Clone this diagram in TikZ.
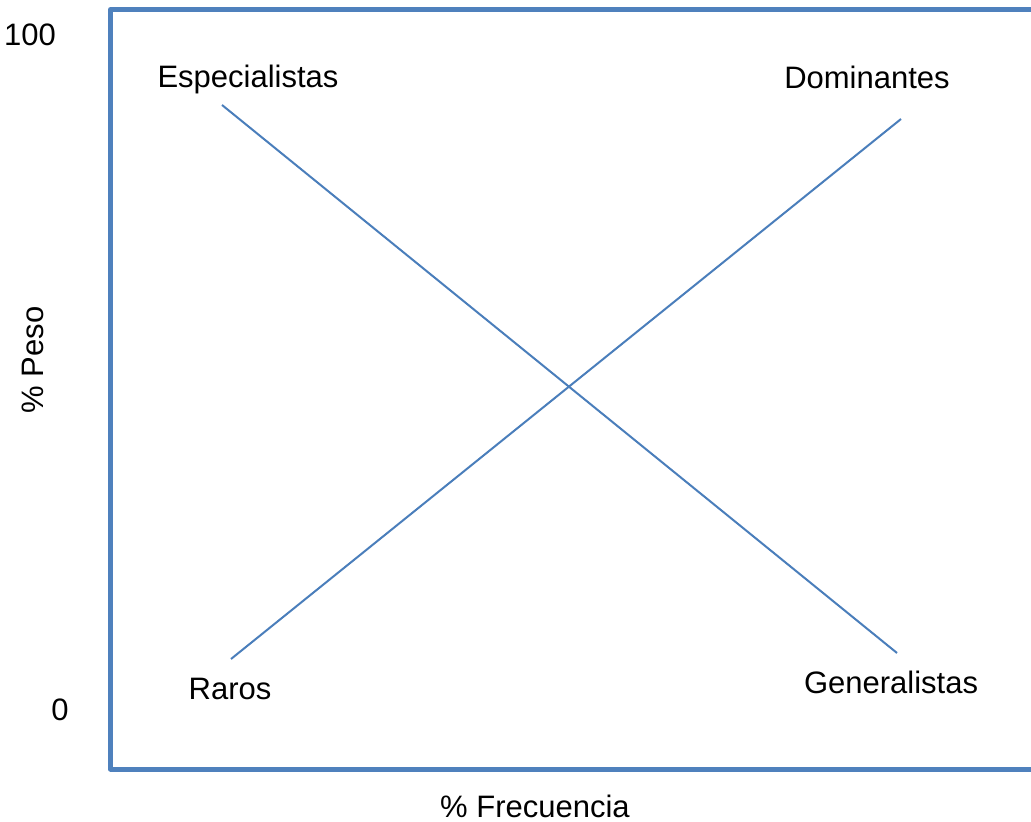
\documentclass[tikz,border=0pt]{standalone}
\usepackage{fontspec}
\setmainfont{Liberation Sans}
\usepackage{tikz}
\usetikzlibrary{positioning}
\definecolor{marco}{HTML}{4F81BD}
\definecolor{linea}{HTML}{4A7EBB}
\tikzset{lbl/.style={inner sep=0pt,font=\fontsize{15.5}{18}\selectfont}}
\tikzset{diag/.style={draw=linea,line width=1pt}}

\begin{document}
\begin{tikzpicture}[x=0.5pt,y=-0.5pt]
% \draw[help lines] (0,0) grid (1031,822);
\useasboundingbox (0,0) rectangle (1031,822);
\clip (0,0) rectangle (1031,822);
\draw[marco,line width=2.5pt,line join=round] (1040,9.5) -- (110.5,9.5) -- (110.5,769) -- (1040,769);
%
\node (max) [lbl] at (30,35) {100};
\node (min) [lbl] at (60,710) {0};
\node (peso) [lbl,rotate=90] at (33,360) {\% Peso};
\node (frec) [lbl] at (535,806) {\% Frecuencia};
%
\node (esp) [lbl] at (248,79) {Especialistas};
\node (dom) [lbl] at (867,77) {Dominantes};
\node (rar) [lbl] at (230,689) {Raros};
\node (gen) [lbl] at (891,682) {Generalistas};
%
\coordinate (esp1) at (222,105);
\coordinate (gen1) at (897,653);
\coordinate (rar1) at (231,659);
\coordinate (dom1) at (901,119);
\path[diag] (esp1) edge (gen1);
\path[diag] (rar1) edge (dom1);
\end{tikzpicture}
\end{document}
